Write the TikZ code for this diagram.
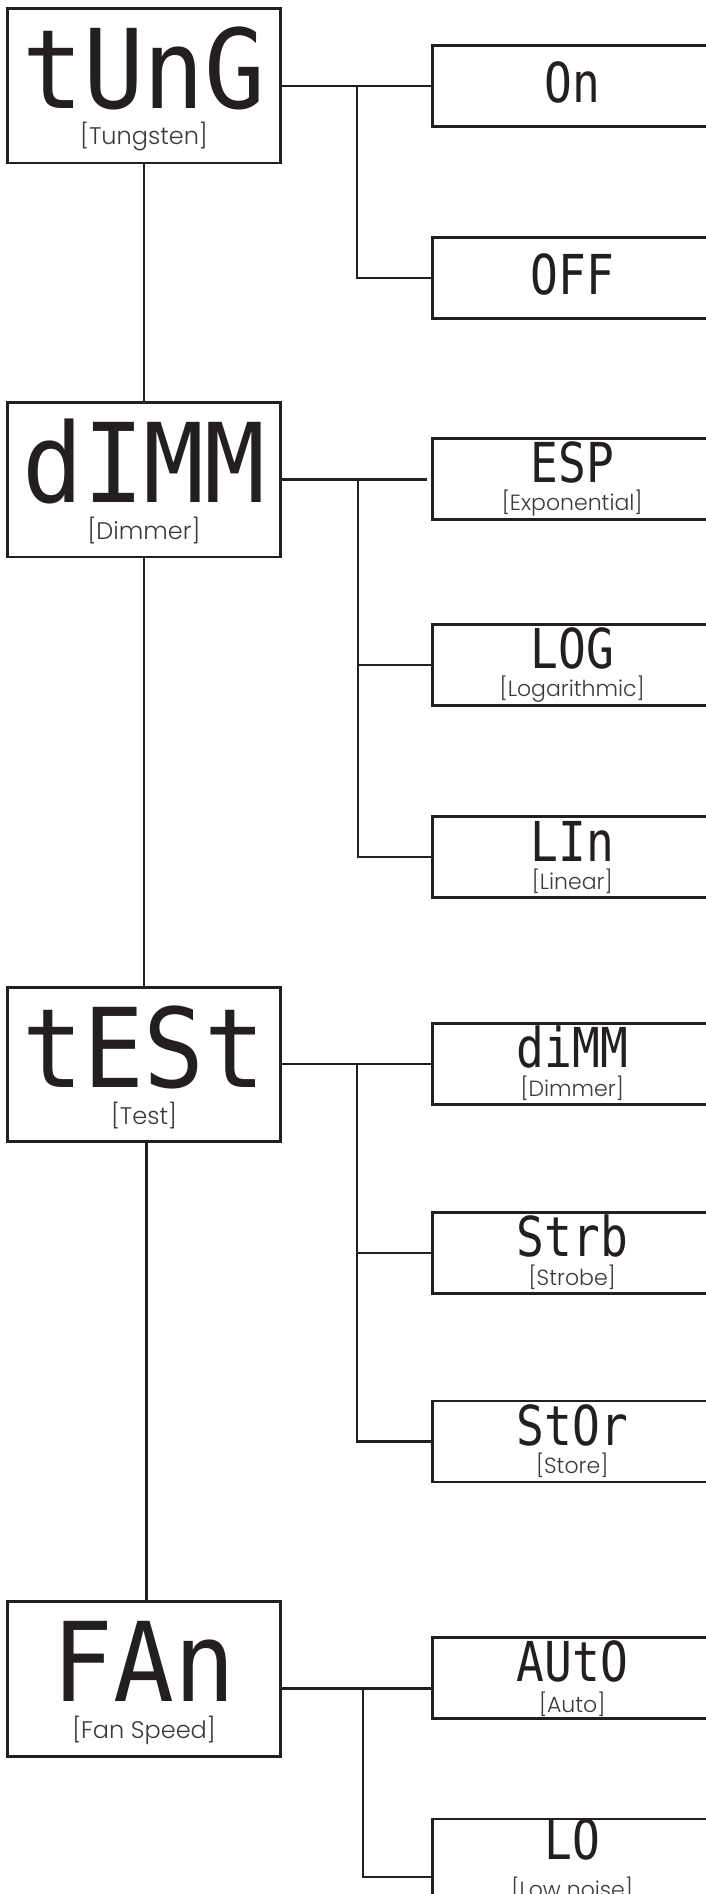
\documentclass[tikz,border=0pt]{standalone}
\usepackage{fontspec}
\newfontfamily\segfont{DejaVu Sans Mono}
\IfFontExistsTF{Poppins Light}{\newfontfamily\labfont{Poppins Light}}{\newfontfamily\labfont{Poppins}}
\definecolor{ink}{HTML}{231F20}
\definecolor{labgray}{HTML}{3A3A3A}
\newcommand\sgP[1]{\scalebox{0.92}[1]{#1}}
\newcommand\sgC[1]{\scalebox{0.84}[1]{#1}}
\begin{document}
\begin{tikzpicture}[x=1pt,y=-1pt,
  pbox/.style={draw=ink, line width=2.8pt, minimum width=273.4pt, minimum height=154.7pt, inner sep=0pt},
  cbox/.style={draw=ink, line width=2.8pt, minimum width=279.5pt, minimum height=81pt, inner sep=0pt},
  link/.style={draw=ink, line width=2.4pt},
  segP/.style={inner sep=0pt, anchor=base, text=ink, font=\segfont\fontsize{110}{110}\selectfont},
  segC/.style={inner sep=0pt, anchor=base, text=ink, font=\segfont\fontsize{55}{55}\selectfont},
  labP/.style={inner sep=0pt, text=labgray, font=\labfont\fontsize{24}{28}\selectfont},
  labC/.style={inner sep=0pt, text=labgray, font=\labfont\fontsize{22}{26}\selectfont}
]
\clip (0,0) rectangle (706,1894);
\fill[white] (0,0) rectangle (706,1894);

% parent boxes
\node[pbox] (tung) at (144,85.7) {};
\node[pbox] (dimm) at (144,479.7) {};
\node[pbox] (test) at (144,1064.5) {};
\node[pbox] (fan)  at (144,1678.8) {};

\node[segP] (tungS) at ([yshift=-101.5pt]tung.north) {\sgP{tUnG}};
\node[labP] (tungL) at ([yshift=-130pt]tung.north) {[Tungsten]};
\node[segP] (dimmS) at ([yshift=-101.5pt]dimm.north) {\sgP{dIMM}};
\node[labP] (dimmL) at ([yshift=-130pt]dimm.north) {[Dimmer]};
\node[segP] (testS) at ([yshift=-101.5pt]test.north) {\sgP{tESt}};
\node[labP] (testL) at ([yshift=-130pt]test.north) {[Test]};
\node[segP] (fanS) at ([yshift=-101.5pt]fan.north) {\sgP{FAn}};
\node[labP] (fanL) at ([yshift=-130pt]fan.north) {[Fan Speed]};

% child boxes
\node[cbox] (on)   at (572.2,85.8) {};
\node[cbox] (off)  at (572.2,277.8) {};
\node[cbox] (esp)  at (572.2,478.8) {};
\node[cbox] (log)  at (572.2,664.8) {};
\node[cbox] (lin)  at (572.2,857.2) {};
\node[cbox] (cdim) at (572.2,1063.8) {};
\node[cbox] (strb) at (572.2,1252.8) {};
\node[cbox] (stor) at (572.2,1441.5) {};
\node[cbox] (auto) at (572.2,1677.8) {};
\node[cbox, minimum height=98pt] (lo) at (572.2,1868) {};

\node[segC] (onS)  at ([yshift=-59pt]on.north) {\sgC{On}};
\node[segC] (offS) at ([yshift=-59pt]off.north) {\sgC{OFF}};
\node[segC] (espS) at ([yshift=-46pt]esp.north) {\sgC{ESP}};
\node[labC] (espL) at ([yshift=-66pt]esp.north) {[Exponential]};
\node[segC] (logS) at ([yshift=-46pt]log.north) {\sgC{LOG}};
\node[labC] (logL) at ([yshift=-66pt]log.north) {[Logarithmic]};
\node[segC] (linS) at ([yshift=-46pt]lin.north) {\sgC{LIn}};
\node[labC] (linL) at ([yshift=-66pt]lin.north) {[Linear]};
\node[segC] (cdimS) at ([yshift=-46pt]cdim.north) {\sgC{diMM}};
\node[labC] (cdimL) at ([yshift=-66pt]cdim.north) {[Dimmer]};
\node[segC] (strbS) at ([yshift=-46pt]strb.north) {\sgC{Strb}};
\node[labC] (strbL) at ([yshift=-66pt]strb.north) {[Strobe]};
\node[segC] (storS) at ([yshift=-46pt]stor.north) {\sgC{StOr}};
\node[labC] (storL) at ([yshift=-66pt]stor.north) {[Store]};
\node[segC] (autoS) at ([yshift=-46pt]auto.north) {\sgC{AUtO}};
\node[labC] (autoL) at ([yshift=-68pt]auto.north) {[Auto]};
\node[segC] (loS) at ([yshift=-42pt]lo.north) {\sgC{LO}};
\node[labC] (loL) at ([yshift=-72pt]lo.north) {[Low noise]};

% main spine
\draw[link] (tung.south) -- (dimm.north);
\draw[link] (dimm.south) -- (test.north);
\draw[link] ([xshift=2.5pt]test.south) -- ([xshift=2.5pt]fan.north);

% branch points
\coordinate (bt) at (357,85.8);
\coordinate (bd) at (358,479.3);
\coordinate (be) at (357,1063.7);
\coordinate (bf) at (362.7,1688.3);

% tungsten
\draw[link] (tung.east |- bt) -- (on.west |- bt);
\draw[link] (bt) |- (off.west);
% dimmer
\draw[link] (dimm.east |- bd) -- ([xshift=-4pt]esp.west |- bd);
\draw[link] (bd) |- (log.west);
\draw[link] (bd) |- (lin.west);
% test
\draw[link] (test.east |- be) -- (cdim.west |- be);
\draw[link] (be) |- (strb.west);
\draw[link] (be) |- (stor.west);
% fan
\draw[link] (fan.east |- bf) -- (auto.west |- bf);
\draw[link] (bf) |- ([yshift=-8.7pt]lo.west);
\end{tikzpicture}
\end{document}
